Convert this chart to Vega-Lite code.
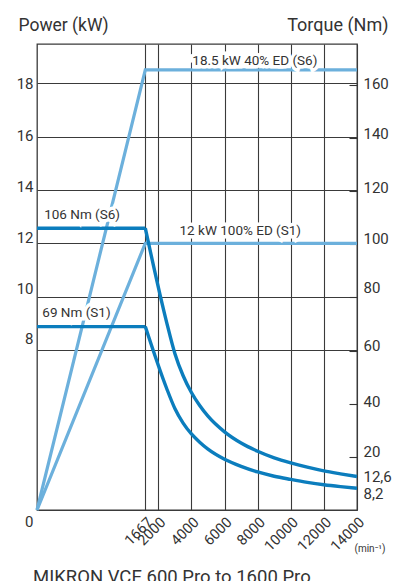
{
  "$schema": "https://vega.github.io/schema/vega-lite/v6.json",
  "width": 320,
  "height": 466,
  "autosize": "none",
  "padding": {"left": 37, "top": 44, "right": 45, "bottom": 71},
  "background": "white",
  "config": {
    "font": "Roboto",
    "view": {"stroke": "#3a3a3a", "strokeWidth": 1.3},
    "axis": {"labelColor": "#333333", "titleColor": "#333333", "titleFontWeight": "normal", "gridColor": "#3a3a3a", "gridOpacity": 1, "gridWidth": 1.1, "labelFlush": false, "labelOverlap": false}
  },
  "title": {"text": "MIKRON VCE 600 Pro to 1600 Pro", "orient": "bottom", "anchor": "start", "frame": "group", "fontSize": 18.5, "fontWeight": "normal", "color": "#333333", "offset": 15, "dx": -4},
  "datasets": {
    "power": [
      {"rpm": 0, "kW": 0, "series": "S6"}, {"rpm": 1667, "kW": 18.5, "series": "S6"}, {"rpm": 14000, "kW": 18.5, "series": "S6"},
      {"rpm": 0, "kW": 0, "series": "S1"}, {"rpm": 1667, "kW": 12, "series": "S1"}, {"rpm": 14000, "kW": 12, "series": "S1"}
    ],
    "ann_power": [
      {"label": "18.5 kW 40% ED (S6)", "rpm": 7830, "kW": 18.84},
      {"label": "12 kW 100% ED  (S1)", "rpm": 6950, "kW": 12.47}
    ],
    "torque_flat": [
      {"rpm": 0, "Nm": 106, "series": "S6"}, {"rpm": 1667, "Nm": 106, "series": "S6"},
      {"rpm": 0, "Nm": 69, "series": "S1"}, {"rpm": 1667, "Nm": 69, "series": "S1"}
    ],
    "torque_curve": [
      {"rpm": 1667, "Nm": 106, "series": "S6"}, {"rpm": 2500, "Nm": 70.7, "series": "S6"},
      {"rpm": 3000, "Nm": 58.9, "series": "S6"}, {"rpm": 3500, "Nm": 50.5, "series": "S6"}, {"rpm": 4000, "Nm": 44.2, "series": "S6"},
      {"rpm": 4500, "Nm": 39.3, "series": "S6"}, {"rpm": 5000, "Nm": 35.3, "series": "S6"}, {"rpm": 6000, "Nm": 29.4, "series": "S6"},
      {"rpm": 7000, "Nm": 25.2, "series": "S6"}, {"rpm": 8000, "Nm": 22.1, "series": "S6"}, {"rpm": 9000, "Nm": 19.6, "series": "S6"},
      {"rpm": 10000, "Nm": 17.7, "series": "S6"}, {"rpm": 11000, "Nm": 16.1, "series": "S6"}, {"rpm": 12000, "Nm": 14.7, "series": "S6"},
      {"rpm": 13000, "Nm": 13.6, "series": "S6"}, {"rpm": 14000, "Nm": 12.6, "series": "S6"},
      {"rpm": 1667, "Nm": 69, "series": "S1"}, {"rpm": 2500, "Nm": 45.8, "series": "S1"},
      {"rpm": 3000, "Nm": 38.2, "series": "S1"}, {"rpm": 3500, "Nm": 32.7, "series": "S1"}, {"rpm": 4000, "Nm": 28.6, "series": "S1"},
      {"rpm": 4500, "Nm": 25.5, "series": "S1"}, {"rpm": 5000, "Nm": 22.9, "series": "S1"}, {"rpm": 6000, "Nm": 19.1, "series": "S1"},
      {"rpm": 7000, "Nm": 16.4, "series": "S1"}, {"rpm": 8000, "Nm": 14.3, "series": "S1"}, {"rpm": 9000, "Nm": 12.7, "series": "S1"},
      {"rpm": 10000, "Nm": 11.5, "series": "S1"}, {"rpm": 11000, "Nm": 10.4, "series": "S1"}, {"rpm": 12000, "Nm": 9.5, "series": "S1"},
      {"rpm": 13000, "Nm": 8.8, "series": "S1"}, {"rpm": 14000, "Nm": 8.2, "series": "S1"}
    ],
    "ann_torque": [
      {"label": "106 Nm (S6)", "rpm": 110, "Nm": 111},
      {"label": "69 Nm (S1)", "rpm": 82, "Nm": 74.1}
    ]
  },
  "layer": [
    {
      "encoding": {
        "x": {"field": "rpm", "type": "quantitative",
          "scale": {"domain": [0, 1667, 2000, 14000], "range": [0, 108.3, 121.3, 320], "nice": false, "zero": false},
          "axis": {"values": [1667, 2000, 4000, 6000, 8000, 10000, 12000, 14000], "format": "d", "grid": true, "ticks": false, "domain": false,
            "labelAngle": -45, "labelFontSize": 14.5, "labelPadding": 5,
            "title": "(min⁻¹)", "titleX": 348, "titleY": 38, "titleAlign": "right", "titleBaseline": "middle", "titleFontSize": 10}},
        "y": {"field": "kW", "type": "quantitative",
          "scale": {"domain": [0, 8, 19.47], "range": [466, 306, 0], "nice": false, "zero": false},
          "axis": {"orient": "left", "values": [0, 8, 10, 12, 14, 16, 18], "grid": true, "ticks": false, "domain": false,
            "labelFontSize": 15, "labelPadding": 4,
            "labelOffset": {"condition": [
              {"test": "datum.value == 0", "value": 11},
              {"test": "datum.value == 8", "value": -12},
              {"test": "datum.value == 10", "value": -8},
              {"test": "datum.value == 12", "value": -6},
              {"test": "datum.value == 14", "value": -3},
              {"test": "datum.value == 16", "value": -1.5}], "value": 0},
            "title": "Power (kW)", "titleAngle": 0, "titleX": -19, "titleY": -14, "titleAlign": "left", "titleBaseline": "alphabetic", "titleFontSize": 17.5}}
      },
      "layer": [
        {"data": {"name": "power"}, "mark": {"type": "line", "color": "#6cb0dc", "strokeWidth": 3.2},
          "encoding": {"detail": {"field": "series"}}},
        {"data": {"name": "ann_power"}, "mark": {"type": "text", "align": "center", "baseline": "middle", "fontSize": 13.5, "color": "white", "stroke": "white", "strokeWidth": 7},
          "encoding": {"text": {"field": "label"}}},
        {"data": {"name": "ann_power"}, "mark": {"type": "text", "align": "center", "baseline": "middle", "fontSize": 13.5, "color": "#333333"},
          "encoding": {"text": {"field": "label"}}}
      ]
    },
    {
      "encoding": {
        "x": {"field": "rpm", "type": "quantitative",
          "scale": {"domain": [0, 1667, 2000, 14000], "range": [0, 108.3, 121.3, 320], "nice": false, "zero": false}},
        "y": {"field": "Nm", "type": "quantitative",
          "scale": {"domain": [0, 175.3], "nice": false, "zero": false},
          "axis": {"orient": "right", "values": [8.2, 12.6, 20, 40, 60, 80, 100, 120, 140, 160], "grid": false, "domain": false,
            "tickSize": -8, "tickColor": "#333333", "tickWidth": 1.1,
            "tickOpacity": {"condition": {"test": "datum.value == 12.6", "value": 0}, "value": 1},
            "labelFontSize": 15, "labelPadding": 14, "labelExpr": "replace(format(datum.value, '.1~f'), '.', ',')",
            "labelOffset": {"condition": [
              {"test": "datum.value == 160", "value": -1},
              {"test": "datum.value == 140", "value": -4},
              {"test": "datum.value == 120", "value": -4},
              {"test": "datum.value == 100", "value": -6},
              {"test": "datum.value == 80", "value": -10},
              {"test": "datum.value == 60", "value": -5},
              {"test": "datum.value == 40", "value": -2},
              {"test": "datum.value == 20", "value": -5},
              {"test": "datum.value == 8.2", "value": 5}], "value": 0},
            "title": "Torque (Nm)", "titleAngle": 0, "titleX": 31, "titleY": -14, "titleAlign": "right", "titleBaseline": "alphabetic", "titleFontSize": 18}}
      },
      "layer": [
        {"data": {"name": "torque_flat"}, "mark": {"type": "line", "color": "#0b7dbd", "strokeWidth": 3.4},
          "encoding": {"detail": {"field": "series"}}},
        {"data": {"name": "torque_curve"}, "mark": {"type": "line", "color": "#0b7dbd", "strokeWidth": 3.4, "interpolate": "monotone"},
          "encoding": {"detail": {"field": "series"}}},
        {"data": {"name": "ann_torque"}, "mark": {"type": "text", "align": "left", "baseline": "middle", "fontSize": 13.5, "color": "white", "stroke": "white", "strokeWidth": 7},
          "encoding": {"text": {"field": "label"}}},
        {"data": {"name": "ann_torque"}, "mark": {"type": "text", "align": "left", "baseline": "middle", "fontSize": 13.5, "color": "#333333"},
          "encoding": {"text": {"field": "label"}}}
      ]
    }
  ],
  "resolve": {"scale": {"y": "independent"}}
}
